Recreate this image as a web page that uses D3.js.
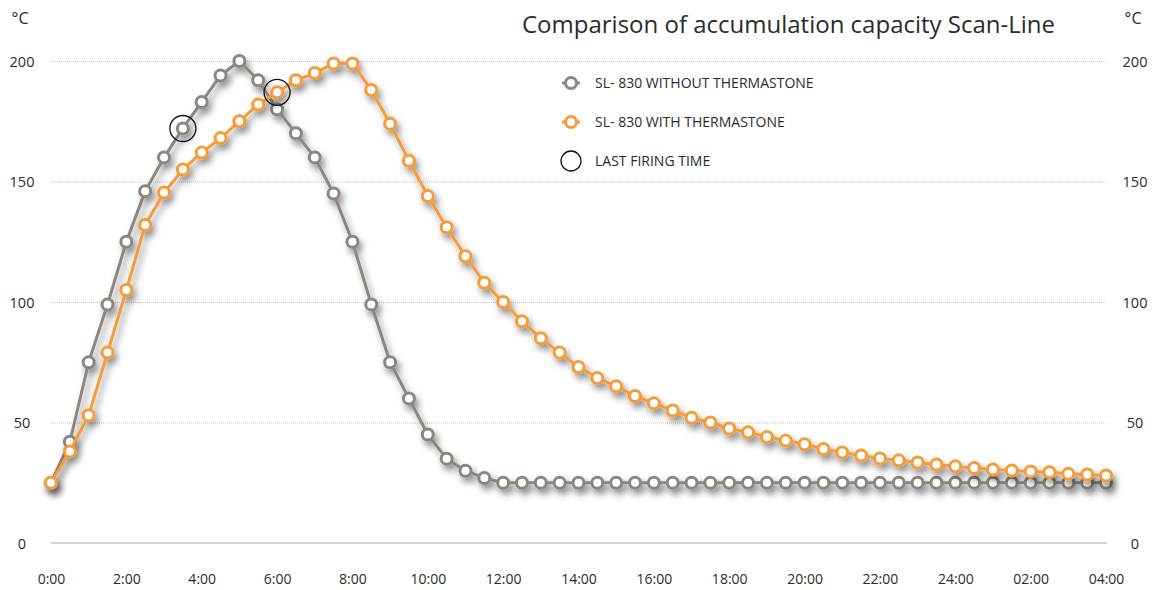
<!DOCTYPE html>
<html lang="en">

<head>
  <meta charset="utf-8">
  <title>Comparison of accumulation capacity Scan-Line</title>
  <script src="https://d3js.org/d3.v7.min.js"></script>
  <style>
    body { margin: 0; background: #fff; }
    #chart text { font-family: "Open Sans", sans-serif; fill: #2b2b2b; }
    .grid line { stroke: #c8c8c8; stroke-dasharray: 1 1; }
    .grid path { display: none; }
  </style>
</head>

<body>
  <div id="chart"></div>

  <script type="text/javascript">
    "use strict"

    // half-hour steps from 0:00 until 04:00 next day (28 h)
    var hours = d3.range(0, 28.5, 0.5);

    var withoutThermastone = [25, 42, 75, 99, 125, 146, 160, 172, 183, 194, 200, 192, 180, 170, 160, 145,
      125, 99, 75, 60, 45, 35, 30, 27,
      25, 25, 25, 25, 25, 25, 25, 25, 25, 25, 25, 25, 25, 25, 25, 25, 25,
      25, 25, 25, 25, 25, 25, 25, 25, 25, 25, 25, 25, 25, 25, 25, 25];

    var withThermastone = [25, 38, 53, 79, 105, 132, 145.4, 155, 162, 168, 175, 182, 187, 192, 195, 199,
      199, 188, 174, 158.6, 144, 131, 119, 108, 100, 92, 85, 79, 73, 68.5, 65, 61, 58, 55, 52, 50,
      47.5, 46, 44, 42.5, 41, 39, 37.6, 36.3, 35.1, 34.3, 33.4, 32.6, 31.8, 31.1, 30.5, 30.1, 29.7,
      29.4, 28.7, 28.4, 28.0];

    var seriesNames = ["SL- 830 WITHOUT THERMASTONE", "SL- 830 WITH THERMASTONE"];
    var firingLabel = "LAST FIRING TIME";
    // last firing time: [series index, hour]
    var lastFiring = [[0, 3.5], [1, 6]];

    var xTicks = [0, 2, 4, 6, 8, 10, 12, 14, 16, 18, 20, 22, 24, 26, 28];
    var xTickLabels = ["0:00", "2:00", "4:00", "6:00", "8:00", "10:00", "12:00", "14:00", "16:00",
      "18:00", "20:00", "22:00", "24:00", "02:00", "04:00"];
    var yTicks = [0, 50, 100, 150, 200];

    var colors = ["#8b867f", "#f59b38"];

    var larguraSVG = 1154, alturaSVG = 590;
    var svg = d3.select("#chart").append("svg")
      .attr("width", larguraSVG)
      .attr("height", alturaSVG);

    var filtro = svg.append("defs").append("filter")
      .attr("id", "sombra")
      .attr("x", "-20%").attr("y", "-20%")
      .attr("width", "140%").attr("height", "140%");
    filtro.append("feDropShadow")
      .attr("dx", 3).attr("dy", 5)
      .attr("stdDeviation", 3.5)
      .attr("flood-color", "#000")
      .attr("flood-opacity", 0.45);

    var x = d3.scaleLinear().domain([0, 28]).range([51, 1106]);
    var y = d3.scaleLinear().domain([0, 200]).range([543, 61]);

    // grid lines
    svg.append("g")
      .attr("class", "grid")
      .attr("transform", "translate(51,0)")
      .call(d3.axisLeft(y).tickValues(yTicks.slice(1)).tickSize(-(1107 - 51)).tickFormat(""))
      .call(g => g.selectAll(".tick line").attr("x1", 0));

    // baseline
    svg.append("line")
      .attr("x1", 51).attr("x2", 1107)
      .attr("y1", y(0)).attr("y2", y(0))
      .attr("stroke", "#aaa").attr("stroke-width", 1);

    // left and right value labels
    [22, 1135].forEach(function (xpos) {
      var eixo = svg.append("g")
        .attr("transform", "translate(" + xpos + ",0)")
        .call(d3.axisLeft(y).tickValues(yTicks).tickSize(0).tickPadding(0));
      eixo.select(".domain").remove();
      eixo.selectAll("text")
        .attr("text-anchor", "middle")
        .attr("x", 0)
        .attr("dy", "0.35em")
        .style("font-size", "14.5px");
      svg.append("text")
        .attr("x", xpos - 2).attr("y", 24)
        .attr("text-anchor", "middle")
        .style("font-size", "16px")
        .text("°C");
    });

    // x axis labels
    var eixoX = svg.append("g")
      .attr("transform", "translate(0,573)")
      .call(d3.axisBottom(x).tickValues(xTicks).tickSize(0).tickPadding(0)
        .tickFormat((d, i) => xTickLabels[i]));
    eixoX.select(".domain").remove();
    eixoX.selectAll("text")
      .style("font-size", "14px")
      .attr("dy", "0.35em")
      .attr("y", 6);

    // title
    svg.append("text")
      .attr("x", 522).attr("y", 33)
      .style("font-size", "24px")
      .text("Comparison of accumulation capacity Scan-Line");

    // lines
    var linha = d3.line()
      .x((d, i) => x(hours[i]))
      .y(d => y(d));

    var dados = [withoutThermastone, withThermastone];

    var grupos = svg.selectAll(".serie")
      .data(dados)
      .enter()
      .append("g")
      .attr("class", "serie")
      .attr("filter", "url(#sombra)");

    grupos.append("path")
      .attr("d", d => linha(d))
      .attr("fill", "none")
      .attr("stroke", (d, i) => colors[i])
      .attr("stroke-width", 3)
      .attr("stroke-linejoin", "round");

    grupos.each(function (serie, s) {
      d3.select(this).selectAll("circle")
        .data(serie)
        .enter()
        .append("circle")
        .attr("cx", (d, i) => x(hours[i]))
        .attr("cy", d => y(d))
        .attr("r", 5.5)
        .attr("fill", "#fff")
        .attr("stroke", colors[s])
        .attr("stroke-width", 3);
    });

    // last firing time circles
    svg.selectAll(".firing")
      .data(lastFiring)
      .enter()
      .append("circle")
      .attr("class", "firing")
      .attr("cx", d => x(d[1]))
      .attr("cy", d => y(dados[d[0]][hours.indexOf(d[1])]))
      .attr("r", 13)
      .attr("fill", "none")
      .attr("stroke", "#111")
      .attr("stroke-width", 1.3);

    // legend
    var legenda = svg.append("g").attr("transform", "translate(571,83)");
    seriesNames.forEach(function (nome, i) {
      var item = legenda.append("g").attr("transform", "translate(0," + (i * 39) + ")");
      item.append("line")
        .attr("x1", -9).attr("x2", 9)
        .attr("stroke", colors[i]).attr("stroke-width", 3);
      item.append("circle")
        .attr("r", 5.5).attr("fill", "#fff")
        .attr("stroke", colors[i]).attr("stroke-width", 3);
      item.append("text")
        .attr("x", 24).attr("dy", "0.35em")
        .style("font-size", "14px")
        .text(nome);
    });
    var itemF = legenda.append("g").attr("transform", "translate(0,78)");
    itemF.append("circle")
      .attr("r", 10).attr("fill", "none")
      .attr("stroke", "#111").attr("stroke-width", 1.3);
    itemF.append("text")
      .attr("x", 24).attr("dy", "0.35em")
      .style("font-size", "14px")
      .text(firingLabel);
  </script>
</body>

</html>
